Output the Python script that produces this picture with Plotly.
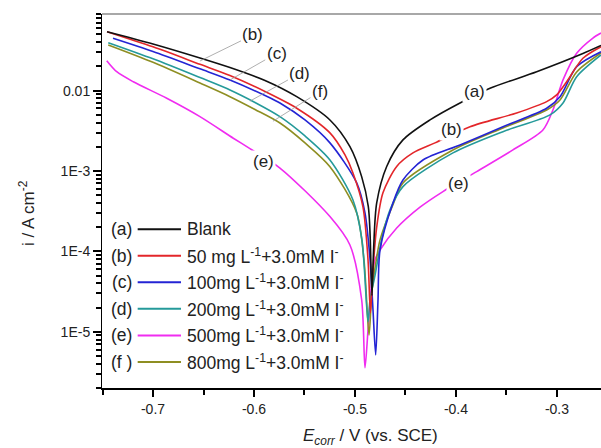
import plotly.graph_objects as go

# ---------------- data ----------------
E_a = [-0.7455, -0.700, -0.6535, -0.6238, -0.5891, -0.5577, -0.5248, -0.5050, -0.4934, -0.4868,
       -0.4850, -0.4832, -0.4815, -0.4785, -0.4686, -0.4525, -0.4257, -0.3960, -0.3663, -0.3201,
       -0.2743, -0.2564]
I_a = [0.0542, 0.0381, 0.0255, 0.0194, 0.01339, 0.00842, 0.00432, 0.00201, 8.52e-4, 3.61e-4,
       1.58e-4, 2.82e-5, 1.12e-4, 4.01e-4, 1.14e-3, 2.44e-3, 4.33e-3, 7.03e-3, 0.0107, 0.0172,
       0.0290, 0.0365]

E_b = [-0.7455, -0.700, -0.6535, -0.6238, -0.5891, -0.5577, -0.5248, -0.5099, -0.5020, -0.4921,
       -0.4871, -0.4847, -0.4822, -0.4785, -0.4723, -0.4587, -0.4426, -0.4208, -0.3861, -0.3399,
       -0.3102, -0.3003, -0.2904, -0.2743, -0.2564]
I_b = [0.0542, 0.0351, 0.0213, 0.01545, 0.00975, 0.00604, 0.00298, 0.001585, 9.47e-4, 3.58e-4,
       7.9e-5, 1.72e-5, 5.9e-5, 2.0e-4, 5.35e-4, 1.14e-3, 1.68e-3, 2.24e-3, 3.56e-3, 5.28e-3,
       7.30e-3, 8.85e-3, 0.0129, 0.0253, 0.0352]

E_c = [-0.7396, -0.700, -0.6535, -0.6238, -0.5891, -0.5743, -0.5495, -0.5248, -0.4983, -0.4901,
       -0.4851, -0.4822, -0.4795, -0.4772, -0.4752, -0.4624, -0.4525, -0.4327, -0.3960, -0.3535,
       -0.3102, -0.2970, -0.2805, -0.2564]
I_c = [0.0449, 0.0307, 0.0187, 0.01358, 0.00871, 0.00703, 0.00432, 0.00224, 7.11e-4, 3.01e-4,
       7.9e-5, 1.9e-5, 5.16e-6, 2.5e-5, 1.04e-4, 4.01e-4, 7.74e-4, 1.37e-3, 2.11e-3, 3.56e-3,
       6.04e-3, 8.41e-3, 0.0199, 0.0305]

E_d = [-0.7443, -0.700, -0.6535, -0.6238, -0.5990, -0.5743, -0.5495, -0.5248, -0.5020, -0.4931,
       -0.4871, -0.4851, -0.4802, -0.4736, -0.4653, -0.4525, -0.4030, -0.3535, -0.3069, -0.2940,
       -0.2805, -0.2564]
I_d = [0.0395, 0.0249, 0.01455, 0.0102, 0.00713, 0.00475, 0.00273, 0.001374, 4.37e-4, 1.39e-4,
       1.33e-5, 2.5e-5, 5.0e-5, 1.41e-4, 3.3e-4, 6.40e-4, 1.68e-3, 3.09e-3, 4.99e-3, 7.03e-3,
       0.0149, 0.0278]

E_e = [-0.7458, -0.7359, -0.7195, -0.6864, -0.6535, -0.6205, -0.6040, -0.5743, -0.5248, -0.5050,
       -0.4934, -0.4901, -0.4871, -0.4832, -0.4802, -0.4752, -0.4587, -0.4356, -0.4129, -0.3795,
       -0.3436, -0.3139, -0.3040, -0.2940, -0.2805, -0.2644, -0.2564]
I_e = [0.0236, 0.0172, 0.0129, 8.04e-3, 4.75e-3, 2.56e-3, 1.90e-3, 1.09e-3, 2.71e-4, 1.20e-4,
       2.5e-5, 3.56e-6, 1.05e-5, 4.5e-5, 7.9e-5, 1.04e-4, 1.95e-4, 3.55e-4, 5.55e-4, 9.84e-4,
       1.83e-3, 3.24e-3, 5.75e-3, 0.0136, 0.0292, 0.0452, 0.0522]

E_f = [-0.7443, -0.700, -0.6535, -0.6238, -0.5990, -0.5743, -0.5495, -0.5248, -0.4983, -0.4911,
       -0.4861, -0.4832, -0.4792, -0.4752, -0.4624, -0.4525, -0.4030, -0.3535, -0.3102, -0.2970,
       -0.2805, -0.2564]
I_f = [0.0370, 0.0225, 0.01243, 0.00842, 0.00584, 0.00396, 0.00224, 0.001134, 3.01e-4, 7.84e-5,
       9.1e-6, 3.3e-5, 7.4e-5, 1.39e-4, 3.8e-4, 7.11e-4, 1.83e-3, 3.44e-3, 5.75e-3, 7.66e-3,
       0.0171, 0.0294]

series_tags = ["(a)", "(b)", "(c)", "(d)", "(e)", "(f )"]
series_names = ["Blank",
                "50 mg L<sup>-1</sup>+3.0mM I<sup>-</sup>",
                "100mg L<sup>-1</sup>+3.0mM I<sup>-</sup>",
                "200mg L<sup>-1</sup>+3.0mM I<sup>-</sup>",
                "500mg L<sup>-1</sup>+3.0mM I<sup>-</sup>",
                "800mg L<sup>-1</sup>+3.0mM I<sup>-</sup>"]
series_colors = ["#111111", "#E3262A", "#2424D4", "#259A9A", "#F02CF0", "#8E8E22"]
series_E = [E_a, E_b, E_c, E_d, E_e, E_f]
series_I = [I_a, I_b, I_c, I_d, I_e, I_f]

x_tickvals = [-0.7, -0.6, -0.5, -0.4, -0.3]
x_ticktext = ["-0.7", "-0.6", "-0.5", "-0.4", "-0.3"]
y_tickvals = [1e-5, 1e-4, 1e-3, 1e-2]
y_ticktext = ["1E-5", "1E-4", "1E-3", "0.01"]

X_RANGE = [-0.7505, -0.2564]
Y_RANGE = [-5.700, -1.046]

FONT = "Liberation Sans, Arial, sans-serif"

fig = go.Figure()
for idx in [4, 5, 3, 2, 1, 0]:
    fig.add_trace(go.Scatter(
        x=series_E[idx], y=series_I[idx], mode="lines",
        line=dict(color=series_colors[idx], width=1.6, shape="spline", smoothing=0.8),
        name=series_names[idx], showlegend=False, hoverinfo="skip"))

annotations = []
shapes = []

# custom legend: tag, line sample, label
leg_top = 0.4243
leg_step = 0.0709
for k in range(6):
    yy = leg_top - k * leg_step
    shapes.append(dict(type="line", xref="paper", yref="paper", x0=0.0715, x1=0.1583,
                       y0=yy, y1=yy, line=dict(color=series_colors[k], width=2)))
    annotations.append(dict(xref="paper", yref="paper", x=0.0395, y=yy, text=series_tags[k],
                            showarrow=False, xanchor="center", yanchor="middle",
                            font=dict(family=FONT, size=17.5, color="#222")))
    annotations.append(dict(xref="paper", yref="paper", x=0.1663, y=yy, text=series_names[k],
                            showarrow=False, xanchor="left", yanchor="middle",
                            font=dict(family=FONT, size=17.5, color="#222")))

# curve labels with leader lines (positions in axis coordinates; y in log10 units)
lead = [("(b)", -0.6535, -1.631, -0.601, -1.307),
        ("(c)", -0.6238, -1.867, -0.5775, -1.535),
        ("(d)", -0.6040, -2.130, -0.5545, -1.784),
        ("(f)", -0.5812, -2.380, -0.5347, -2.012)]
for t, x, y, ax, ay in lead:
    annotations.append(dict(x=x, y=y, ax=ax, ay=ay, xref="x", yref="y", axref="x", ayref="y",
                            text=t, showarrow=True, arrowhead=0, arrowwidth=0.8,
                            arrowcolor="#9a9a9a", standoff=0, startstandoff=0,
                            font=dict(family=FONT, size=17, color="#222")))

free = [("(e)", -0.5908, -2.883), ("(a)", -0.3812, -2.012),
        ("(b)", -0.4043, -2.489), ("(e)", -0.3977, -3.152)]
for t, x, y in free:
    annotations.append(dict(x=x, y=y, xref="x", yref="y", text=t, showarrow=False,
                            bgcolor="white", borderpad=1,
                            font=dict(family=FONT, size=17, color="#222")))

# axis titles
annotations.append(dict(xref="paper", yref="paper", x=0.538, y=-0.132,
                        text="<i>E</i><sub><i>corr</i></sub> / V (vs. SCE)", showarrow=False,
                        xanchor="center", yanchor="middle",
                        font=dict(family=FONT, size=17, color="#222")))
annotations.append(dict(xref="paper", yref="paper", x=-0.150, y=0.468,
                        text="i / A cm<sup>-2</sup>", showarrow=False, textangle=-90,
                        xanchor="center", yanchor="middle",
                        font=dict(family=FONT, size=17, color="#222")))

# top frame line (gray)
shapes.append(dict(type="line", xref="paper", yref="paper", x0=0, x1=1, y0=1, y1=1,
                   line=dict(color="#a8a8a8", width=2)))

fig.update_layout(
    template="none",
    width=601, height=448,
    margin=dict(l=102, r=0, t=14, b=60),
    showlegend=False,
    annotations=annotations, shapes=shapes,
    xaxis=dict(range=X_RANGE, showline=True, linecolor="black", linewidth=1.5,
               ticks="outside", ticklen=7, tickwidth=2, tickcolor="black",
               tickmode="array", tickvals=x_tickvals, ticktext=x_ticktext,
               tickfont=dict(family=FONT, size=14, color="#222"),
               showgrid=False, zeroline=False,
               minor=dict(ticks="outside", ticklen=5, tickwidth=2, tickcolor="black",
                          dtick=0.05)),
    yaxis=dict(type="log", range=Y_RANGE, showline=True, linecolor="black", linewidth=1,
               ticks="outside", ticklen=8, tickwidth=2, tickcolor="#000000",
               tickmode="array", tickvals=y_tickvals, ticktext=y_ticktext,
               tickfont=dict(family=FONT, size=14, color="#222"),
               showgrid=False, zeroline=False,
               minor=dict(ticks="outside", ticklen=5, tickwidth=2, tickcolor="#000000",
                          dtick="D1")),
)

fig.write_html("out.html")
